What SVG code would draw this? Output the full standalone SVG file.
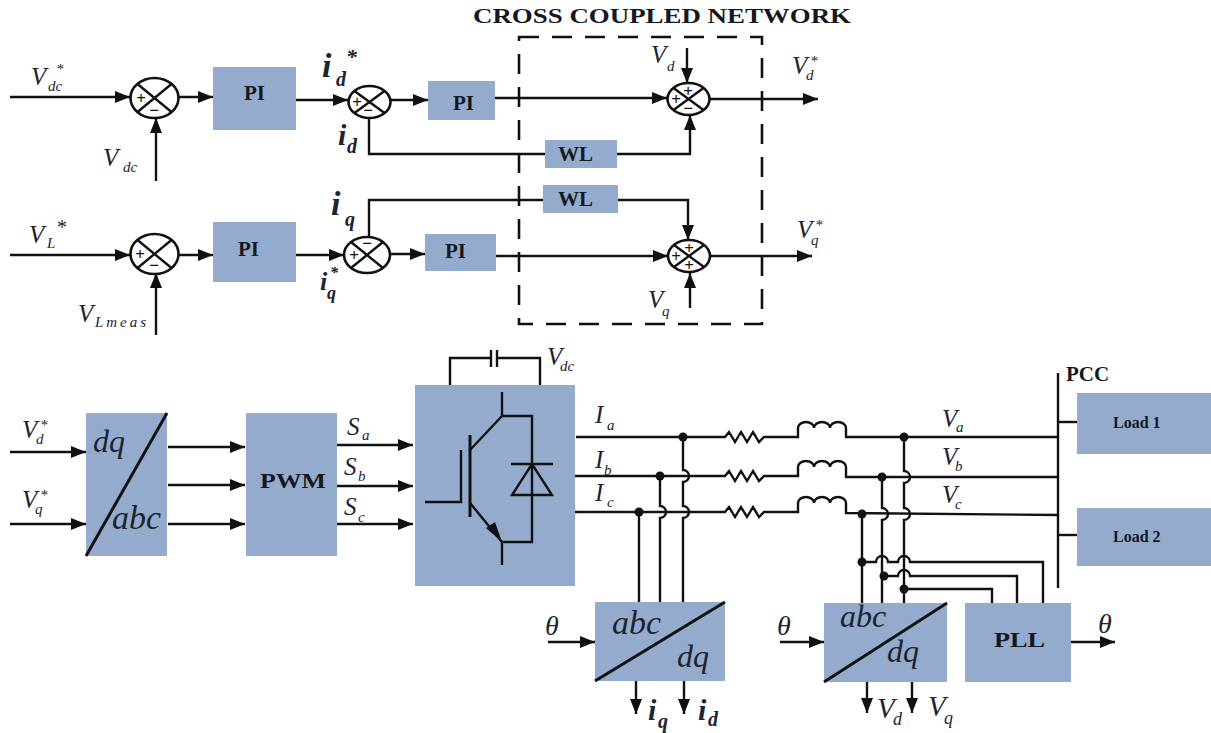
<svg xmlns="http://www.w3.org/2000/svg" width="1211" height="733" viewBox="0 0 1211 733">
<style>
text{font-family:"Liberation Serif","Times New Roman",serif;fill:#1c2430}
.b{font-weight:bold;fill:#15191f}
.m{font-style:italic}
.v{font-size:25px}
.s{font-size:15px}
.i{font-size:34px;font-weight:bold}
.t{font-size:34px}
.u{font-size:32px}
.w{fill:none;stroke:#111;stroke-width:2.4}
.a{fill:none;stroke:#111;stroke-width:2.4;marker-end:url(#ah)}
.box{fill:#94abcd}
.x{fill:none;stroke:#111;stroke-width:2.6}
.l{stroke:#111;stroke-width:2.4}
.g{font-size:17px;font-weight:bold;text-anchor:middle;fill:#111}
.d{fill:#111}
</style>
<defs>
<marker id="ah" markerUnits="userSpaceOnUse" markerWidth="18" markerHeight="14" refX="15" refY="6" orient="auto"><path d="M0 0L15 6L0 12Z" fill="#111"/></marker>
</defs>
<rect width="1211" height="733" fill="#fff"/>

<g id="connectors">
<path class="a" d="M10 97H130"/><path class="a" d="M179 97H213"/><path class="a" d="M156 181V118"/>
<path class="a" d="M296 100H348"/><path class="a" d="M391 100H428"/><path class="a" d="M495 98H667"/>
<path class="w" d="M369 118V154H545"/><path class="a" d="M617 154H690V115"/>
<path class="a" d="M687 48V83"/><path class="a" d="M710 99H818"/>
<path class="a" d="M10 255H130"/><path class="a" d="M179 255H213"/><path class="a" d="M156 335V273"/>
<path class="a" d="M296 255H344"/><path class="a" d="M390 254H425"/><path class="a" d="M496 256H668"/><path class="a" d="M711 256H812"/>
<path class="w" d="M369 237V200H543"/><path class="a" d="M618 200H688V240"/><path class="a" d="M690 308V273"/>

<path class="a" d="M10 452H86"/><path class="a" d="M10 524H86"/>
<path class="a" d="M168 447H245"/><path class="a" d="M168 485H245"/><path class="a" d="M168 524H245"/>
<path class="a" d="M337 445H413"/><path class="a" d="M337 486H413"/><path class="a" d="M337 524H413"/>

<path class="w" d="M450 385V358H491M497 358H540V385"/>
<path class="w" d="M491 350V367M497 350V367"/>

<path class="w" d="M576 437H725l4-5 6 10 6-10 6 10 6-10 6 10 5-5H798V428a8 6 0 0 1 16 0a8 6 0 0 1 16 0a8 6 0 0 1 16 0V437H1058"/>
<path class="w" d="M573 476H725l4-5 6 10 6-10 6 10 6-10 6 10 5-5H798V467a8 6 0 0 1 16 0a8 6 0 0 1 16 0a8 6 0 0 1 16 0V477H1058"/>
<path class="w" d="M573 512H725l4-5 6 10 6-10 6 10 6-10 6 10 5-5H798V503a8 6 0 0 1 16 0a8 6 0 0 1 16 0a8 6 0 0 1 16 0V513L1058 515"/>

<path class="w" d="M683 437V470a6 6 0 0 1 0 12V506a6 6 0 0 1 0 12V602"/>
<path class="w" d="M660 476V506a6 6 0 0 1 0 12V602"/>
<path class="w" d="M639 512V602"/>
<path class="w" d="M904 437V471a6 6 0 0 1 0 12V508a6 6 0 0 1 0 12V603"/>
<path class="w" d="M882 477V508a6 6 0 0 1 0 12V603"/>
<path class="w" d="M862 514V603"/>
<path class="w" d="M862 562H876a6 6 0 0 1 12 0H898a6 6 0 0 1 12 0H1043V603"/>
<path class="w" d="M884 576H898a6 6 0 0 1 12 0H1017V603"/>
<path class="w" d="M904 589H992V603"/>
<path class="w" d="M1058 373V588"/>
<path class="w" d="M1058 422H1077"/><path class="w" d="M1058 535H1077"/>

<g class="d">
<circle cx="683" cy="437" r="4.5"/><circle cx="660" cy="476" r="4.5"/><circle cx="639" cy="512" r="4.5"/>
<circle cx="904" cy="437" r="4.5"/><circle cx="882" cy="477" r="4.5"/><circle cx="862" cy="514" r="4.5"/>
<circle cx="862" cy="562" r="4.5"/><circle cx="884" cy="576" r="4.5"/><circle cx="904" cy="589" r="4.5"/>
</g>

<path class="a" d="M548 642H595"/><path class="a" d="M780 642H824"/><path class="a" d="M1071 642H1115"/>
<path class="a" d="M636 680V714"/><path class="a" d="M684 680V714"/>
<path class="a" d="M867 682V713"/><path class="a" d="M912 682V713"/>
</g>

<g id="cross-coupled-network">
<rect x="519" y="37" width="243" height="287" fill="none" stroke="#111" stroke-width="2.6" stroke-dasharray="20 13"/>
<text class="b" x="473" y="23" font-size="21" textLength="378" lengthAdjust="spacingAndGlyphs">CROSS COUPLED NETWORK</text>
</g>

<g id="sum1"><ellipse class="x" cx="154.5" cy="98" rx="24" ry="20"/><path class="l" d="M137.500 84L171.500 112M171.500 84L137.500 112"/><text class="g" x="141" y="104">+</text><text class="g" x="154" y="116">−</text></g>
<g id="sum2"><ellipse class="x" cx="369.500" cy="102" rx="21" ry="16"/><path class="l" d="M354.500 91L384.500 113M384.500 91L354.500 113"/><text class="g" x="357" y="108">+</text><text class="g" x="368" y="116">−</text></g>
<g id="sum3"><ellipse class="x" cx="688.500" cy="99" rx="21" ry="16"/><path class="l" d="M673.500 88L703.500 110M703.500 88L673.500 110"/><text class="g" x="688" y="97">+</text><text class="g" x="676" y="105">+</text><text class="g" x="688" y="114">−</text></g>
<g id="sum4"><ellipse class="x" cx="154.500" cy="254" rx="24" ry="20"/><path class="l" d="M137.500 240L171.500 268M171.500 240L137.500 268"/><text class="g" x="140" y="260">+</text><text class="g" x="154" y="271">−</text></g>
<g id="sum5"><ellipse class="x" cx="367" cy="255" rx="23" ry="18"/><path class="l" d="M351 242L383 268M383 242L351 268"/><text class="g" x="367" y="249">−</text><text class="g" x="354" y="261">+</text></g>
<g id="sum6"><ellipse class="x" cx="689" cy="256" rx="21" ry="16"/><path class="l" d="M674 245L704 267M704 245L674 267"/><text class="g" x="689" y="254">+</text><text class="g" x="676" y="262">+</text><text class="g" x="689" y="271">+</text></g>

<g id="pi1"><rect class="box" x="213" y="67" width="83" height="63"/><text class="b" x="244" y="100" font-size="21">PI</text></g>
<g id="pi2"><rect class="box" x="428" y="81" width="67" height="39"/><text class="b" x="453" y="110" font-size="21">PI</text></g>
<g id="pi3"><rect class="box" x="213" y="222" width="83" height="60"/><text class="b" x="238" y="256" font-size="21">PI</text></g>
<g id="pi4"><rect class="box" x="425" y="234" width="71" height="37"/><text class="b" x="445" y="258" font-size="21">PI</text></g>
<g id="wl1"><rect class="box" x="545" y="140" width="72" height="28"/><text class="b" x="558" y="161" font-size="21">WL</text></g>
<g id="wl2"><rect class="box" x="543" y="185" width="75" height="28"/><text class="b" x="558" y="206" font-size="21">WL</text></g>

<g id="dq-abc"><rect class="box" x="86" y="413" width="81" height="143"/><path class="w" style="stroke-width:3" d="M86 556L167 413"/><text class="m" font-size="32" x="93" y="452">dq</text><text class="m t" x="112" y="529">abc</text></g>
<g id="pwm"><rect class="box" x="246" y="413" width="91" height="143"/><text class="b" x="260" y="488" font-size="21" textLength="66" lengthAdjust="spacingAndGlyphs">PWM</text></g>

<g id="converter"><rect class="box" x="415" y="385" width="160" height="201"/>
<path class="w" d="M502 392V416H532V542H502V565"/>
<path class="w" style="stroke-width:3" d="M470 435V517"/>
<path class="w" d="M470 450L502 416"/>
<path class="w" d="M470 503L502 542"/>
<path d="M486 528L502 542L495 522Z" fill="#111"/>
<path class="w" d="M461 450V502H425"/>
<path class="w" d="M512 495H552L532 464ZM511 464H553"/>
</g>

<g id="abc-dq-1"><rect class="box" x="595" y="602" width="130" height="79"/><path class="w" style="stroke-width:3" d="M595 681L725 602"/><text class="m t" x="612" y="634">abc</text><text class="m u" x="677" y="667">dq</text></g>
<g id="abc-dq-2"><rect class="box" x="824" y="603" width="123" height="79"/><path class="w" style="stroke-width:3" d="M824 682L947 603"/><text class="m u" x="840" y="627">abc</text><text class="m u" x="887" y="662">dq</text></g>
<g id="pll"><rect class="box" x="965" y="603" width="106" height="79"/><text class="b" x="994" y="647" font-size="21" textLength="51" lengthAdjust="spacingAndGlyphs">PLL</text></g>
<g id="load1"><rect class="box" x="1077" y="393" width="134" height="61"/><text class="b" x="1113" y="428" font-size="16">Load 1</text></g>
<g id="load2"><rect class="box" x="1077" y="508" width="134" height="58"/><text class="b" x="1113" y="542" font-size="16">Load 2</text></g>
<g id="pcc"><text class="b" x="1066" y="381" font-size="21">PCC</text></g>

<g id="labels">
<text class="m v" x="31" y="85">V<tspan class="s" x="48" y="91">dc</tspan><tspan class="s" x="56" y="74">*</tspan></text>
<text class="m v" x="103" y="166">V<tspan class="s" x="123" y="172">dc</tspan></text>
<text class="m i" x="322" y="77">i<tspan font-size="20" x="336" y="86">d</tspan><tspan font-size="22" x="346" y="64">*</tspan></text>
<text class="m i" x="338" y="145" style="font-size:30px">i<tspan font-size="20" x="347" y="153">d</tspan></text>
<text class="m i" x="331" y="215">i<tspan font-size="20" x="345" y="226">q</tspan></text>
<text class="m v" x="29" y="243">V<tspan class="s" x="47" y="248">L</tspan><tspan font-size="20" x="56" y="234">*</tspan></text>
<text class="m i" x="320" y="290" style="font-size:26px">i<tspan font-size="18" x="327" y="299">q</tspan><tspan font-size="16" x="330" y="278">*</tspan></text>
<text class="m v" x="78" y="322">V<tspan class="s" x="95" y="327" textLength="51">Lmeas</tspan></text>
<text class="m v" x="651" y="63">V<tspan class="s" x="667" y="71">d</tspan></text>
<text class="m v" x="792" y="74">V<tspan class="s" x="806" y="80">d</tspan><tspan class="s" x="810" y="66">*</tspan></text>
<text class="m v" x="797" y="238">V<tspan class="s" x="811" y="245">q</tspan><tspan class="s" x="815" y="230">*</tspan></text>
<text class="m v" x="648" y="308">V<tspan class="s" x="662" y="316">q</tspan></text>

<text class="m v" x="22" y="438">V<tspan class="s" x="36" y="444">d</tspan><tspan class="s" x="40" y="430">*</tspan></text>
<text class="m v" x="22" y="508">V<tspan class="s" x="35" y="514">q</tspan><tspan class="s" x="40" y="500">*</tspan></text>
<text class="m v" x="347" y="435">S<tspan class="s" x="362" y="440">a</tspan></text>
<text class="m v" x="344" y="475">S<tspan class="s" x="358" y="481">b</tspan></text>
<text class="m v" x="344" y="515">S<tspan class="s" x="358" y="522">c</tspan></text>
<text class="m v" x="547" y="365">V<tspan class="s" x="560" y="371">dc</tspan></text>
<text class="m v" x="595" y="423">I<tspan class="s" x="607" y="430">a</tspan></text>
<text class="m v" x="595" y="468">I<tspan class="s" x="604" y="475">b</tspan></text>
<text class="m v" x="595" y="501">I<tspan class="s" x="607" y="507">c</tspan></text>
<text class="m v" x="942" y="427">V<tspan class="s" x="956" y="432">a</tspan></text>
<text class="m v" x="942" y="465">V<tspan class="s" x="955" y="471">b</tspan></text>
<text class="m v" x="942" y="503">V<tspan class="s" x="955" y="509">c</tspan></text>
<text class="m" x="545" y="635" font-size="28">θ</text>
<text class="m" x="777" y="635" font-size="28">θ</text>
<text class="m" x="1098" y="633" font-size="28">θ</text>
<text class="m i" x="648" y="720" style="font-size:30px">i<tspan font-size="20" x="658" y="728">q</tspan></text>
<text class="m i" x="698" y="720" style="font-size:30px">i<tspan font-size="20" x="708" y="726">d</tspan></text>
<text class="m" x="877" y="718" font-size="29">V<tspan font-size="18" x="893" y="725">d</tspan></text>
<text class="m" x="928" y="716" font-size="29">V<tspan font-size="18" x="944" y="724">q</tspan></text>
</g>
</svg>
